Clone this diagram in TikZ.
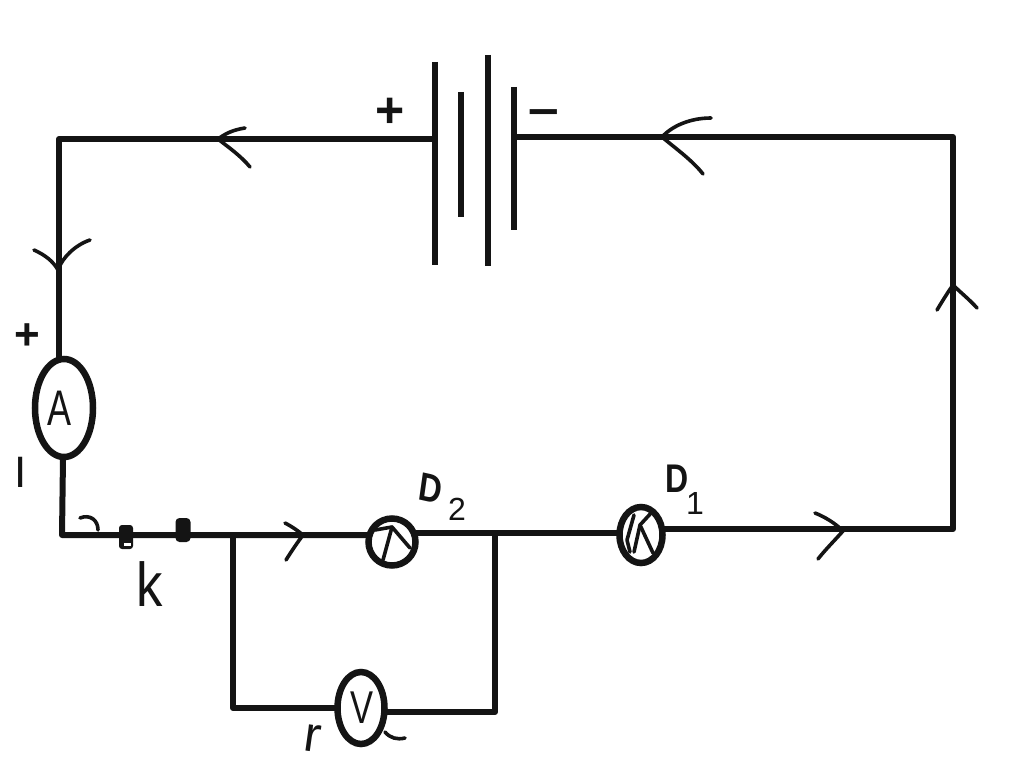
\documentclass[tikz,border=0pt]{standalone}
\usepackage{fontspec}
\setmainfont{Liberation Sans}
\usetikzlibrary{shapes.geometric}
\tikzset{
  wire/.style={line width=6pt,line cap=round,line join=round,black!92},
  plate/.style={line width=6.5pt,black!92},
  meter/.style={ellipse,draw=black!92,line width=6.5pt,inner sep=0pt,fill=white},
  barb/.style={line width=3.6pt,line cap=round,line join=round,black!92},
  hand/.style={inner sep=0pt,text=black!92}
}
\begin{document}
\begin{tikzpicture}[x=1pt,y=-1pt]
\useasboundingbox (0,0) rectangle (1024,770);
\fill[white] (0,0) rectangle (1024,770);
% corners and junctions
\coordinate (tl) at (59,139);
\coordinate (tr) at (953,137);
\coordinate (br) at (953,529);
\coordinate (bl) at (62,535);
\coordinate (j1) at (233,535);
\coordinate (j2) at (495,533);
\coordinate (v1) at (233,708);
\coordinate (v2) at (495,712);
\coordinate (plus) at (432,139);
\coordinate (minus) at (516,137);
% battery
\coordinate (p1a) at (435,62); \coordinate (p1b) at (435,265);
\coordinate (p2a) at (461,92); \coordinate (p2b) at (461,217);
\coordinate (p3a) at (488,55); \coordinate (p3b) at (488,266);
\coordinate (p4a) at (514,87); \coordinate (p4b) at (514,230);
\draw[plate] (p1a) -- (p1b);
\draw[plate] (p2a) -- (p2b);
\draw[plate] (p3a) -- (p3b);
\draw[plate] (p4a) -- (p4b);
% wires
\draw[wire] (plus) -- (tl) -- (59,358);
\draw[wire] (minus) -- (tr) -- (br) -- (660,529);
\draw[wire] (63,458) -- (bl) -- (j1) -- (370,535);
\draw[wire] (415,533) -- (j2) -- (620,533);
\draw[wire] (j1) -- (v1) -- (340,708);
\draw[wire] (380,712) -- (v2) -- (j2);
% meters and lamps
\node[meter,minimum width=58pt,minimum height=98pt] (am) at (64,408) {};
\node[meter,minimum width=47pt,minimum height=72pt] (vm) at (361,708) {};
\node[meter,minimum width=47pt,minimum height=47pt] (d2) at (392,542) {};
\node[meter,minimum width=43pt,minimum height=56pt] (d1) at (641,535) {};
% switch contacts
\node[fill=black!92,rounded corners=3pt,minimum width=14pt,minimum height=24pt,inner sep=0pt] (k1) at (126,537) {};
\node[fill=black!92,rounded corners=4pt,minimum width=15pt,minimum height=24pt,inner sep=0pt] (k2) at (183,530) {};
\node[fill=white,inner sep=0pt,minimum width=7pt,minimum height=3pt] at (127,544) {};
% arrow marks
\draw[barb] (245,128) .. controls (232,130) and (225,134) .. (218,139) .. controls (228,147) and (240,155) .. (250,167);
\draw[barb] (711,118) .. controls (690,118) and (672,126) .. (662,137) .. controls (675,148) and (692,160) .. (703,174);
\draw[barb] (34,250) .. controls (45,255) and (53,261) .. (58,270) .. controls (62,258) and (75,245) .. (90,240);
\draw[barb] (937,310) .. controls (943,300) and (948,292) .. (953,285) .. controls (960,292) and (970,300) .. (977,308);
\draw[barb] (815,513) .. controls (825,517) and (835,523) .. (843,531) .. controls (835,540) and (825,550) .. (818,559);
\draw[barb] (285,523) .. controls (291,526) and (297,530) .. (303,535) .. controls (297,543) and (291,552) .. (286,560);
\draw[barb] (80,518) .. controls (90,514) and (98,520) .. (98,530);
% lamp filaments
\draw[barb] (375,530) -- (392,527) -- (410,548);
\draw[barb] (392,527) -- (383,560);
\draw[barb] (634,515) -- (627,540) -- (630,552);
\draw[barb] (652,512) -- (640,525) -- (653,553);
\draw[barb] (640,525) -- (634,552);
% text
\node[hand,font=\bfseries\fontsize{50}{50}\selectfont] (plusb) at (390,113) {+};
\node[hand,font=\bfseries\fontsize{50}{50}\selectfont,xscale=1.1,anchor=base] (minusb) at (544,126) {–};
\node[hand,font=\bfseries\fontsize{44}{44}\selectfont] (plusa) at (27,337) {+};
\node[hand,font=\fontsize{44}{44}\selectfont] (minusa) at (21,472) {I};
\node[hand,font=\fontsize{50}{50}\selectfont,xscale=.72] at (60,408) {A};
\node[hand,font=\fontsize{46}{46}\selectfont,xscale=.75] at (362,708) {V};
\node[hand,font=\fontsize{62}{62}\selectfont,xscale=.85] (klabel) at (150,584) {k};
\node[hand,font=\bfseries\fontsize{40}{40}\selectfont,xscale=.8,rotate=-10] (d2label) at (431,488) {D};
\node[hand,font=\fontsize{32}{32}\selectfont] (d2sub) at (457,509) {2};
\node[hand,font=\bfseries\fontsize{40}{40}\selectfont,xscale=.8] (d1label) at (677,479) {D};
\node[hand,font=\fontsize{32}{32}\selectfont] (d1sub) at (695,503) {1};
\node[hand,font=\fontsize{50}{50}\selectfont,rotate=-8] (vplus) at (313,738) {r};
\draw[barb] (385,732) .. controls (390,738) and (397,740) .. (405,738);
\end{tikzpicture}
\end{document}
